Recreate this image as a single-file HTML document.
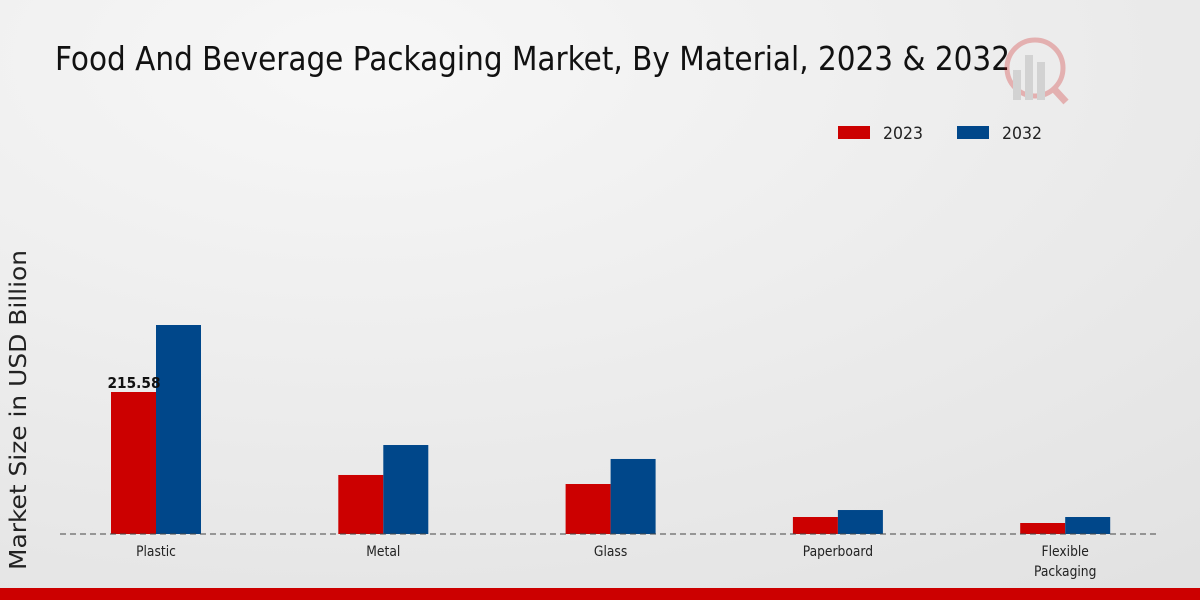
<!DOCTYPE html>
<html><head><meta charset="utf-8"><style>
html,body{margin:0;padding:0;width:1200px;height:600px;overflow:hidden}
svg{display:block}
text{font-family:"DejaVu Sans","Liberation Sans",sans-serif}
</style></head><body>
<svg id="chart" width="1200" height="600">
<defs><radialGradient id="bg" cx="0.3" cy="0.1" r="1.1"><stop offset="0" stop-color="#f7f7f7"/><stop offset="1" stop-color="#e2e2e2"/></radialGradient></defs>
<rect width="1200" height="600" fill="url(#bg)"/>
<text x="55" y="70" font-size="33" textLength="955" lengthAdjust="spacingAndGlyphs" fill="#111">Food And Beverage Packaging Market, By Material, 2023 &amp; 2032</text>
<g opacity="0.25"><circle cx="1035" cy="68" r="28" fill="none" stroke="#c00" stroke-width="5"/><rect x="1013" y="70" width="8" height="30" fill="#888"/><rect x="1025" y="55" width="8" height="45" fill="#888"/><rect x="1037" y="62" width="8" height="38" fill="#888"/><line x1="1055" y1="90" x2="1066" y2="102" stroke="#c00" stroke-width="7"/></g>
<g>
<rect x="838" y="126" width="32" height="13" fill="#cc0000"/>
<text x="883" y="139" font-size="17" fill="#222" textLength="40" lengthAdjust="spacingAndGlyphs">2023</text>
<rect x="957" y="126" width="32" height="13" fill="#00478a"/>
<text x="1002" y="139" font-size="17" fill="#222" textLength="40" lengthAdjust="spacingAndGlyphs">2032</text>
</g>
<text transform="translate(26,410) rotate(-90)" text-anchor="middle" font-size="23" textLength="320" lengthAdjust="spacingAndGlyphs" fill="#222">Market Size in USD Billion</text>
<g id="bars"></g>
<line x1="60" y1="534" x2="1160" y2="534" stroke="#444" stroke-dasharray="6,4"/>
<g id="labels"></g>
<rect x="0" y="588" width="1200" height="12" fill="#cc0000"/>
</svg>
<script>
const categories = ["Plastic","Metal","Glass","Paperboard","Flexible\nPackaging"];
const values2023 = [215.58, 89.6, 75.9, 25.8, 16.7];
const values2032 = [317.3, 135.1, 113.9, 36.4, 25.8];
const valueLabels2023 = ["215.58", "", "", "", ""];
const NS="http://www.w3.org/2000/svg";
const baseY=534, scale=142/215.58;
const xCenter=i=>156+i*227.3;
const yPos=v=>baseY-v*scale;
const bars=document.getElementById('bars'), labels=document.getElementById('labels');
function rect(x,v,color,name){
  const r=document.createElementNS(NS,'rect');
  r.setAttribute('x',x);r.setAttribute('y',yPos(v));r.setAttribute('width',45);r.setAttribute('height',baseY-yPos(v));r.setAttribute('fill',color);
  
  
  bars.appendChild(r);
}
categories.forEach((c,i)=>{
  const cx=xCenter(i);
  rect(cx-45,values2023[i],'#cc0000','bar-2023-'+i);
  rect(cx,values2032[i],'#00478a','bar-2032-'+i);
  c.split('\n').forEach((line,j)=>{
    const t=document.createElementNS(NS,'text');
    t.setAttribute('x',cx);t.setAttribute('y',556+j*20);t.setAttribute('text-anchor','middle');t.setAttribute('font-size','14');t.setAttribute('fill','#222');
    t.setAttribute('transform','translate('+cx+',0) scale(0.88,1) translate('+(-cx)+',0)');
    t.textContent=line;
    
    
    labels.appendChild(t);
  });
  if(valueLabels2023[i]){
    const t=document.createElementNS(NS,'text');
    t.setAttribute('x',cx-22);t.setAttribute('y',yPos(values2023[i])-4);t.setAttribute('text-anchor','middle');t.setAttribute('font-size','15');t.setAttribute('font-weight','bold');t.setAttribute('fill','#111');
    t.setAttribute('textLength','53');
    t.setAttribute('lengthAdjust','spacingAndGlyphs');
    t.textContent=valueLabels2023[i];
    
    
    labels.appendChild(t);
  }
});
</script>
</body></html>
